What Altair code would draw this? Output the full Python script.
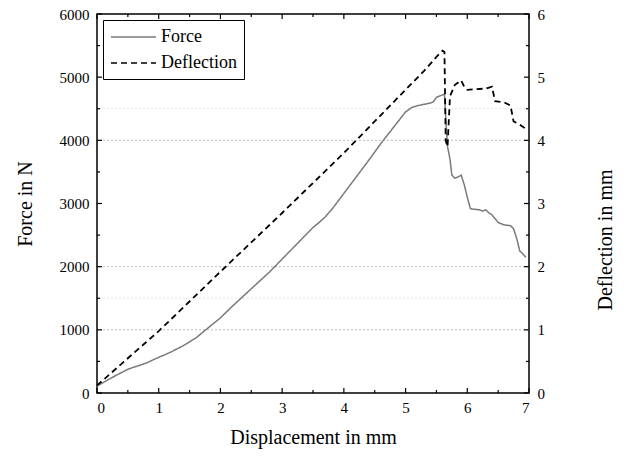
import altair as alt
import pandas as pd

# ---- data ----
force_x = [0.00, 0.10, 0.20, 0.30, 0.40, 0.50, 0.60, 0.70, 0.80, 0.90, 1.00, 1.10, 1.20, 1.30, 1.40,
           1.50, 1.60, 1.70, 1.80, 1.90, 2.00, 2.20, 2.40, 2.60, 2.80, 3.00, 3.20, 3.40, 3.50, 3.60,
           3.70, 3.80, 3.90, 4.00, 4.20, 4.40, 4.60, 4.80, 5.00, 5.10, 5.20, 5.30, 5.40, 5.45, 5.50,
           5.60, 5.63, 5.66, 5.68, 5.72, 5.75, 5.80, 5.85, 5.90, 5.95, 6.00, 6.05, 6.10, 6.20, 6.25,
           6.30, 6.35, 6.40, 6.50, 6.60, 6.70, 6.75, 6.80, 6.85, 6.90, 6.95]
force_n = [110, 165, 220, 275, 325, 375, 410, 440, 475, 520, 565, 605, 650, 700, 750,
           810, 870, 950, 1030, 1110, 1190, 1380, 1560, 1740, 1920, 2120, 2320, 2520, 2620, 2700,
           2790, 2900, 3030, 3160, 3420, 3680, 3950, 4200, 4450, 4520, 4550, 4570, 4590, 4610, 4680,
           4720, 4730, 4200, 3900, 3700, 3450, 3400, 3420, 3450, 3300, 3100, 2920, 2910, 2900, 2880,
           2900, 2850, 2820, 2700, 2660, 2650, 2600, 2450, 2250, 2200, 2150]

defl_x = [0.00, 1.00, 2.00, 3.00, 4.00, 5.00, 5.30, 5.50, 5.60, 5.63, 5.65, 5.68, 5.72, 5.80, 5.90,
          5.95, 6.00, 6.30, 6.40, 6.45, 6.60, 6.70, 6.75, 6.85, 6.95]
defl_mm = [0.12, 0.98, 1.92, 2.85, 3.80, 4.80, 5.10, 5.32, 5.42, 5.40, 4.00, 3.90, 4.70, 4.88, 4.95,
           4.85, 4.80, 4.82, 4.85, 4.62, 4.60, 4.55, 4.30, 4.25, 4.18]

series_names = ["Force", "Deflection"]
grid_main = [1000, 2000, 4000]
grid_faint = [1500, 4500]
x_major = [0, 1, 2, 3, 4, 5, 6, 7]
x_minor = [0.5, 1.5, 2.5, 3.5, 4.5, 5.5, 6.5]
y_major = [0, 1000, 2000, 3000, 4000, 5000, 6000]
y_minor = [500, 1500, 2500, 3500, 4500, 5500]
defl_ticks = [0, 1, 2, 3, 4, 5, 6]

W, H = 432, 379
FONT = "Liberation Serif"

force_df = pd.DataFrame({"x": force_x, "v": force_n, "series": series_names[0]})
defl_df = pd.DataFrame({"x": defl_x, "v": defl_mm, "series": series_names[1]})

xscale = alt.Scale(domain=[0, 7], nice=False, zero=False)
fscale = alt.Scale(domain=[0, 6000], nice=False)
dscale = alt.Scale(domain=[0, 6], nice=False)

color = alt.Color("series:N", scale=alt.Scale(domain=series_names, range=["#7a7a7a", "#000000"]),
                  legend=alt.Legend(title=None, orient="top-left", offset=6, strokeColor="black",
                                    fillColor="white", padding=7, symbolType="M-1,0H4",
                                    symbolSize=324, symbolStrokeWidth=1.6, labelFont=FONT,
                                    labelFontSize=18, labelColor="black", rowPadding=7,
                                    labelOffset=31))
dash = alt.StrokeDash("series:N", scale=alt.Scale(domain=series_names, range=[[1, 0], [6, 4]]),
                      legend=alt.Legend(title=None))

lab = dict(labelFont=FONT, labelFontSize=15, labelColor="black", labelFontWeight="normal")
tit = dict(titleFont=FONT, titleFontSize=20, titleFontWeight="normal", titleColor="black")

xaxis = alt.Axis(title="Displacement in mm", values=x_major, format="d", ticks=False, domain=False,
                 grid=False, labelPadding=7, titleY=44, titleBaseline="middle", **lab, **tit)

grid1 = alt.Chart(pd.DataFrame({"g": grid_main})).mark_rule(
    color="#bdbdbd", strokeDash=[2, 2], strokeWidth=1
).encode(y=alt.Y("g:Q", scale=fscale, axis=None))

grid2 = alt.Chart(pd.DataFrame({"g": grid_faint})).mark_rule(
    color="#e6e6e6", strokeDash=[2, 2], strokeWidth=1
).encode(y=alt.Y("g:Q", scale=fscale, axis=None))

force_line = alt.Chart(force_df).mark_line(strokeWidth=1.5).encode(
    x=alt.X("x:Q", scale=xscale, axis=xaxis),
    y=alt.Y("v:Q", scale=fscale,
            axis=alt.Axis(title="Force in N", values=y_major, format="d", ticks=False, domain=False,
                          grid=False, labelPadding=8, titleAngle=270, titleX=-72, titleY=H / 2,
                          titleBaseline="middle", titleAlign="center", **lab, **tit)),
    color=color, strokeDash=dash, order="x:Q")

defl_line = alt.Chart(defl_df).mark_line(strokeWidth=1.8).encode(
    x=alt.X("x:Q", scale=xscale),
    y=alt.Y("v:Q", scale=dscale,
            axis=alt.Axis(title="Deflection in mm", orient="right", values=defl_ticks, format="d",
                          ticks=False, domain=False, grid=False, labelPadding=8, titleAngle=270,
                          titleX=76, titleY=H / 2 + 36, titleBaseline="middle",
                          titleAlign="center", **lab, **tit)),
    color=color, strokeDash=dash, order="x:Q")


def vticks(vals, y0, y1):
    return alt.Chart(pd.DataFrame({"t": vals})).mark_rule(color="black", strokeWidth=1.2).encode(
        x=alt.X("t:Q", scale=xscale), y=alt.value(y0), y2=alt.value(y1))


def hticks(vals, x0, x1):
    return alt.Chart(pd.DataFrame({"t": vals})).mark_rule(color="black", strokeWidth=1.2).encode(
        y=alt.Y("t:Q", scale=fscale, axis=None), x=alt.value(x0), x2=alt.value(x1))


ticks = [
    vticks(x_major, H, H - 5), vticks(x_minor, H, H - 3),
    vticks(x_major, 0, 5), vticks(x_minor, 0, 3),
    hticks(y_major, 0, 5), hticks(y_minor, 0, 3),
    hticks(y_major, W, W - 5), hticks(y_minor, W, W - 3),
]

chart = alt.layer(grid1, grid2, force_line, defl_line, *ticks).resolve_scale(
    y="independent"
).properties(
    width=W, height=H,
    autosize=alt.AutoSizeParams(type="none"),
    padding={"left": 89, "top": 6, "right": 90, "bottom": 56},
).configure(
    background="white", font=FONT,
    style={"guide-label": {"font": FONT}, "guide-title": {"font": FONT}},
).configure_axis(
    labelFont=FONT, titleFont=FONT
).configure_legend(
    labelFont=FONT
).configure_view(stroke="black", strokeWidth=1.5)

chart.save("out.html", embed_options={"renderer": "svg", "actions": False})
